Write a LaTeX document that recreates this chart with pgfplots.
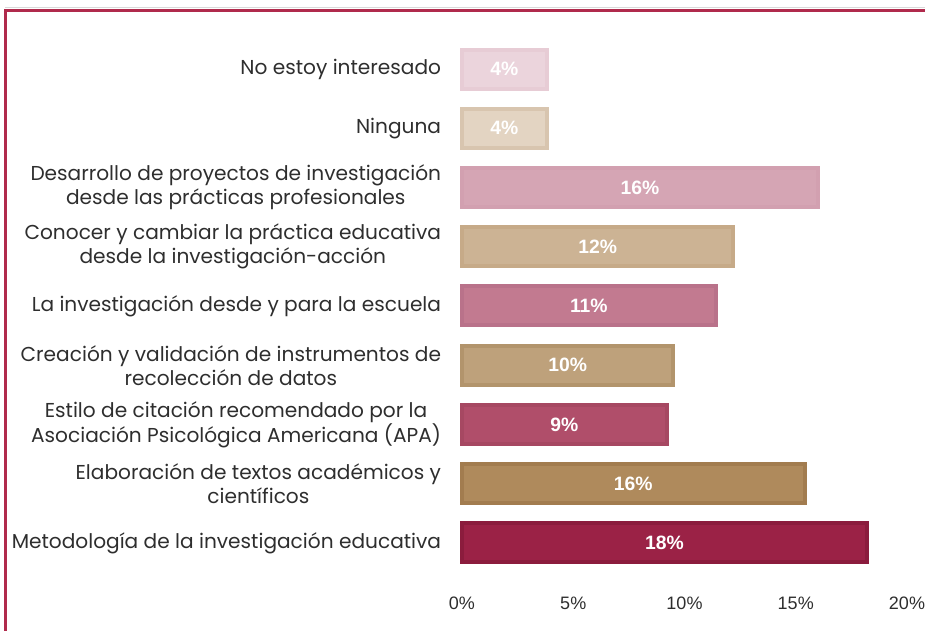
\documentclass[border=0pt]{standalone}
\usepackage{pgfplots}
\pgfplotsset{compat=1.18}
\usepackage{pgfplotstable}
\usepackage{fontspec}
\setmainfont{Poppins}
\newfontfamily\arialf{Liberation Sans}
\usepackage{xcolor}
\definecolor{framec}{HTML}{B02A4C}
\definecolor{txt}{HTML}{2E2E2E}
% outer / inner shade per bar
\definecolor{aout}{HTML}{E7CCD5}\definecolor{ain}{HTML}{EBD4DC}
\definecolor{bout}{HTML}{D8C5AF}\definecolor{bin}{HTML}{E3D4C2}
\definecolor{cout}{HTML}{D2A0B0}\definecolor{cin}{HTML}{D5A5B4}
\definecolor{dout}{HTML}{C6AA88}\definecolor{din}{HTML}{CCB394}
\definecolor{eout}{HTML}{B9728A}\definecolor{ein}{HTML}{C27A90}
\definecolor{fout}{HTML}{B2946C}\definecolor{fin}{HTML}{BEA17B}
\definecolor{gout}{HTML}{A64862}\definecolor{gin}{HTML}{B04E6A}
\definecolor{hout}{HTML}{A27C4F}\definecolor{hin}{HTML}{AF8A5C}
\definecolor{iout}{HTML}{8B1C3D}\definecolor{iin}{HTML}{9B2246}

\pgfplotstableread{
y v lab
8 3.8 4
7 3.8 4
6 16.0 16
5 12.2 12
4 11.4 11
3 9.5 10
2 9.2 9
1 15.4 16
0 18.2 18
}\datatable

\begin{document}
\begin{tikzpicture}
\path[use as bounding box] (0,0) rectangle (693.75pt,473.25pt);
\draw[black!15, line width=0.6pt] (3.75pt,467.5pt) -- (693.75pt,467.5pt);
\draw[framec, line width=2.25pt] (3.75pt,0) -- (3.75pt,465pt) -- (693.75pt,465pt);
\begin{axis}[
  at={(346.5pt,34.9pt)}, anchor=south west,
  scale only axis, width=333.75pt, height=417.7pt,
  xmin=0, xmax=20, ymin=-0.7, ymax=8.7,
  axis line style={draw=none}, major tick length=0pt,
  clip=false,
  xtick={0,5,10,15,20},
  xticklabels={0\%,5\%,10\%,15\%,20\%},
  xticklabel style={font=\arialf\fontsize{13.5}{15}\selectfont, text=txt, inner sep=0pt, yshift=-9.4pt},
  ytick={0,...,8},
  yticklabels={
    {Metodología de la investigación educativa},
    {Elaboración de textos académicos y\\científicos},
    {Estilo de citación recomendado por la\\Asociación Psicológica Americana (APA)},
    {Creación y validación de instrumentos de\\recolección de datos},
    {La investigación desde y para la escuela},
    {Conocer y cambiar la práctica educativa\\desde la investigación-acción},
    {Desarrollo de proyectos de investigación\\desde las prácticas profesionales},
    {Ninguna},
    {No estoy interesado}},
  yticklabel style={align=center, font=\fontsize{15.1}{18}\selectfont, text=txt, inner sep=0pt, xshift=-15.5pt},
  every axis plot/.append style={xbar, bar shift=0pt, bar width=29.25pt, line width=3pt},
]
\addplot[fill=ain, draw=aout] coordinates {(3.8,8)};
\addplot[fill=bin, draw=bout] coordinates {(3.8,7)};
\addplot[fill=cin, draw=cout] coordinates {(16.0,6)};
\addplot[fill=din, draw=dout] coordinates {(12.2,5)};
\addplot[fill=ein, draw=eout] coordinates {(11.4,4)};
\addplot[fill=fin, draw=fout] coordinates {(9.5,3)};
\addplot[fill=gin, draw=gout] coordinates {(9.2,2)};
\addplot[fill=hin, draw=hout] coordinates {(15.4,1)};
\addplot[fill=iin, draw=iout] coordinates {(18.2,0)};
% value labels centred in each bar
\addplot[draw=none, mark=none, xbar=0pt, fill=none, bar width=0pt, line width=0pt,
  point meta=explicit symbolic,
  nodes near coords={\pgfplotspointmeta\%},
  every node near coord/.style={anchor=center, xshift=0pt, text=white,
    font=\arialf\bfseries\fontsize{14.5}{16}\selectfont}]
  table[x expr=\thisrow{v}/2, y=y, meta=lab] {\datatable};
\end{axis}
\end{tikzpicture}
\end{document}
